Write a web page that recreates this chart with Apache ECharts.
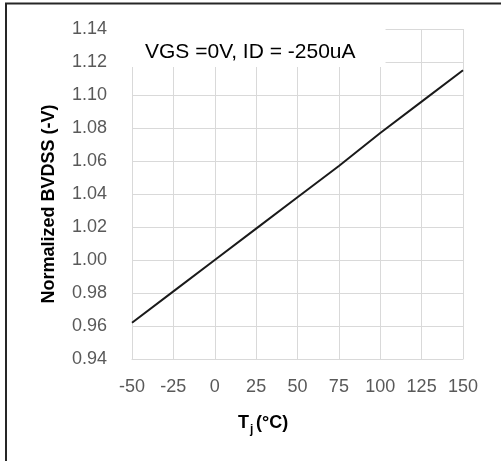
<!DOCTYPE html>
<html>
<head>
<meta charset="utf-8">
<script src="https://cdn.jsdelivr.net/npm/echarts@6/dist/echarts.min.js"></script>
<style>
  html, body { margin: 0; padding: 0; background: #fff; }
  #chart { width: 501px; height: 461px; }
</style>
</head>
<body>
<div id="chart"></div>
<script>
// junction temperature (°C) and normalized BVDSS
var tempC = [-50, -25, 0, 25, 50, 75, 100, 125, 150];
var bvdss = [0.962, 0.981, 1.000, 1.019, 1.038, 1.057, 1.077, 1.096, 1.115];
var condition = "VGS =0V, ID = -250uA";
var yName = "Normalized BVDSS (-V)";

var font = "'Liberation Sans', Arial, sans-serif";
var myChart = echarts.init(document.getElementById("chart"));

var options = {
  backgroundColor: "#fff",
  animation: false,
  grid: { left: 132, right: 38, top: 29, bottom: 102 },
  title: {
    text: condition,
    left: 130,
    top: 24,
    padding: [16, 30, 3, 15],
    backgroundColor: "#fff",
    textStyle: { fontFamily: font, fontSize: 21, fontWeight: "normal", color: "#000", lineHeight: 24 },
  },
  xAxis: {
    type: "value",
    min: -50,
    max: 150,
    interval: 25,
    axisLine: { show: true, lineStyle: { color: "#d9d9d9", width: 1 } },
    axisTick: { show: false },
    axisLabel: { color: "#595959", fontFamily: font, fontSize: 18, margin: 19 },
    splitLine: { show: true, lineStyle: { color: "#d9d9d9", width: 1 } },
  },
  yAxis: {
    type: "value",
    min: 0.94,
    max: 1.14,
    interval: 0.02,
    axisLine: { show: true, lineStyle: { color: "#d9d9d9", width: 1 } },
    axisTick: { show: false },
    axisLabel: {
      color: "#595959", fontFamily: font, fontSize: 18, margin: 25,
      formatter: function (v) { return v.toFixed(2); },
    },
    splitLine: { show: true, lineStyle: { color: "#d9d9d9", width: 1 } },
  },
  series: [
    {
      type: "line",
      data: tempC.map(function (t, i) { return [t, bvdss[i]]; }),
      showSymbol: false,
      lineStyle: { color: "#1a1a1a", width: 2 },
    },
  ],
  graphic: [
    // frame (top and left edges only, the rest is cropped)
    { type: "line", shape: { x1: 5, y1: 3.5, x2: 501, y2: 3.5 }, style: { stroke: "#262626", lineWidth: 2 } },
    { type: "line", shape: { x1: 6, y1: 3, x2: 6, y2: 461 }, style: { stroke: "#262626", lineWidth: 2 } },
    {
      type: "text", x: 49, y: 204, rotation: Math.PI / 2,
      style: { text: yName, fontFamily: font, fontSize: 18, fontWeight: "bold", fill: "#000", align: "center", verticalAlign: "middle" },
    },
    { type: "text", x: 238, y: 423, style: { text: "T", fontFamily: font, fontSize: 18, fontWeight: "bold", fill: "#000", align: "left", verticalAlign: "middle" } },
    { type: "text", x: 250, y: 430, style: { text: "j", fontFamily: font, fontSize: 12, fontWeight: "bold", fill: "#000", align: "left", verticalAlign: "middle" } },
    { type: "text", x: 256, y: 423, style: { text: "(°C)", fontFamily: font, fontSize: 18, fontWeight: "bold", fill: "#000", align: "left", verticalAlign: "middle" } },
  ],
};

myChart.setOption(options);
</script>
</body>
</html>
